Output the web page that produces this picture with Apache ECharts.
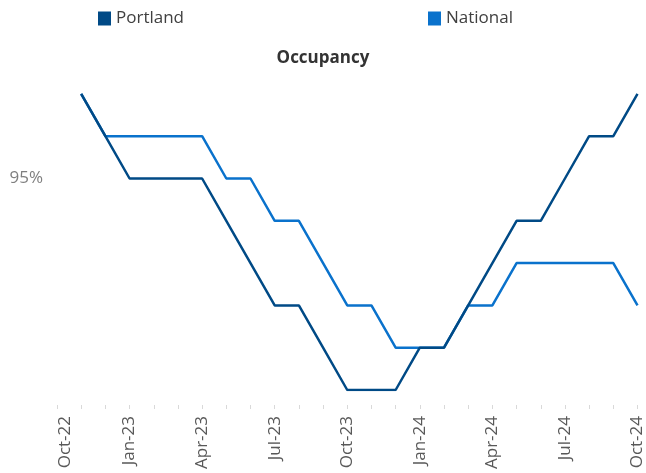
<!DOCTYPE html>
<html><head><meta charset="utf-8">
<script src="https://cdn.jsdelivr.net/npm/echarts@6/dist/echarts.min.js"></script>
<style>html,body{margin:0;padding:0;background:#fff}#c{width:646px;height:473px}</style>
</head><body><div id="c"></div>
<script>
var months = ['Oct-22','Nov-22','Dec-22','Jan-23','Feb-23','Mar-23','Apr-23','May-23','Jun-23','Jul-23','Aug-23','Sep-23','Oct-23','Nov-23','Dec-23','Jan-24','Feb-24','Mar-24','Apr-24','May-24','Jun-24','Jul-24','Aug-24','Sep-24','Oct-24'];
var portland = [null,97,96,95,95,95,95,94,93,92,92,91,90,90,90,91,91,92,93,94,94,95,96,96,97];
var national = [null,97,96,96,96,96,96,95,95,94,94,93,92,92,91,91,91,92,92,93,93,93,93,93,92];
var shownTickLabels = [95];

var chart = echarts.init(document.getElementById('c'));
var legendText = {fontFamily: 'Open Sans', fontSize: 17, color: '#404040'};
chart.setOption({
  animation: false,
  title: {text: 'Occupancy', left: 'center', top: 45, textStyle: {fontFamily: 'Open Sans', fontSize: 17, fontWeight: 'bold', color: '#333'}},
  legend: [
    {data: ['Portland'], left: 98, top: 10, padding: 0, itemWidth: 13, itemHeight: 14, itemGap: 6, icon: 'rect', textStyle: legendText},
    {data: ['National'], left: 428, top: 10, padding: 0, itemWidth: 13, itemHeight: 14, itemGap: 6, icon: 'rect', textStyle: legendText}
  ],
  grid: {left: 57, right: 8, top: 390 - 8 * 42.3, bottom: 473 - 390},
  xAxis: {
    type: 'category', data: months, boundaryGap: false, offset: 15,
    axisLine: {show: false},
    axisTick: {show: true, interval: 0, length: 4, lineStyle: {color: '#d9d9d9'}},
    axisLabel: {interval: 2, rotate: 90, margin: 11, fontFamily: 'Open Sans', fontSize: 17, color: '#595959',
      formatter: function (v, i) { return i === 0 ? '{first|' + v + '}' : v; },
      rich: {first: {fontFamily: 'Open Sans', fontSize: 17, color: '#595959', padding: [16, 0, 0, 0]}}}
  },
  yAxis: {
    type: 'value', min: 90, max: 98, interval: 1,
    splitLine: {show: false},
    axisLine: {show: false},
    axisTick: {show: false},
    axisLabel: {margin: 14, fontFamily: 'Open Sans', fontSize: 17, color: '#7f7f7f', padding: [5, 0, 0, 0],
      formatter: function (v) { return shownTickLabels.indexOf(Math.round(v)) >= 0 ? Math.round(v) + '%' : ''; }}
  },
  series: [
    {name: 'Portland', type: 'line', data: portland, symbol: 'none', color: '#004A86', lineStyle: {width: 2.5, color: '#004A86'}, z: 3},
    {name: 'National', type: 'line', data: national, symbol: 'none', color: '#0A72CC', lineStyle: {width: 2.5, color: '#0A72CC'}, z: 2}
  ]
});
</script>
</body></html>
